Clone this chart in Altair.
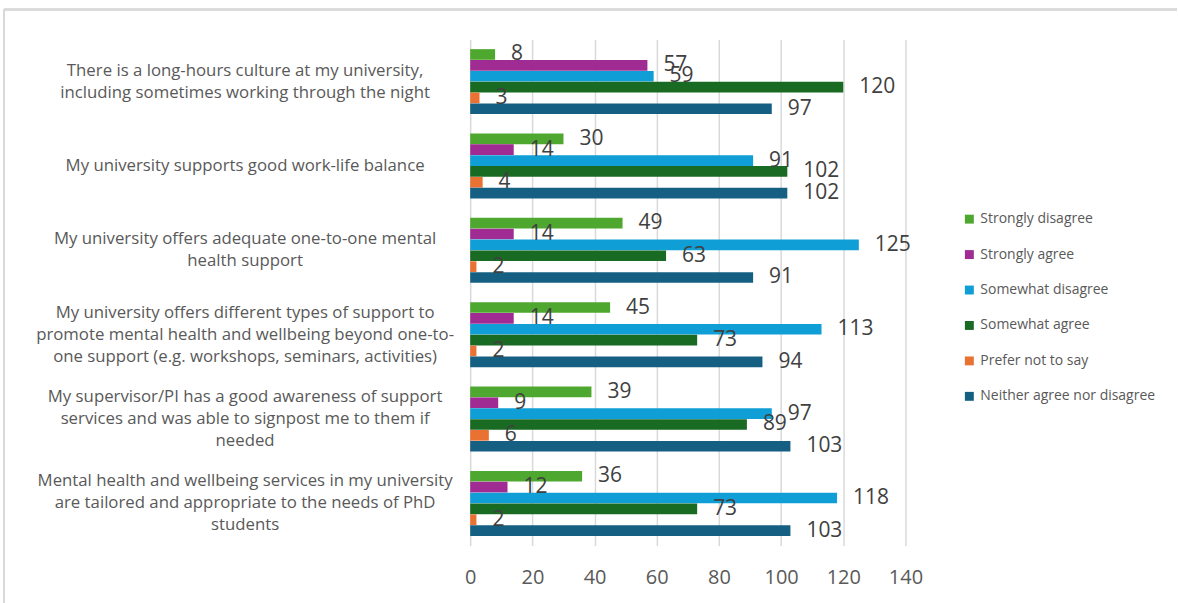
import altair as alt
import pandas as pd

categories = [
    "There is a long-hours culture at my university,|including sometimes working through the night",
    "My university supports good work-life balance",
    "My university offers adequate one-to-one mental|health support",
    "My university offers  different types of support to|promote mental health and wellbeing beyond one-to-|one support (e.g. workshops, seminars, activities)",
    "My supervisor/PI has a good awareness of support|services and was able to signpost me to them if|needed",
    "Mental health and wellbeing services in my university|are tailored and appropriate to the needs of PhD|students",
]
series = ["Strongly disagree", "Strongly agree", "Somewhat disagree",
          "Somewhat agree", "Prefer not to say", "Neither agree nor disagree"]
colors = ["#4EA72E", "#A02B93", "#0F9ED5", "#196B24", "#E97132", "#156082"]

strongly_disagree = [8, 30, 49, 45, 39, 36]
strongly_agree = [57, 14, 14, 14, 9, 12]
somewhat_disagree = [59, 91, 125, 113, 97, 118]
somewhat_agree = [120, 102, 63, 73, 89, 73]
prefer_not = [3, 4, 2, 2, 6, 2]
neither = [97, 102, 91, 94, 103, 103]

values = [strongly_disagree, strongly_agree, somewhat_disagree, somewhat_agree, prefer_not, neither]
rows = []
for s, vals in zip(series, values):
    for c, v in zip(categories, vals):
        rows.append({"category": c, "series": s, "value": v})
df = pd.DataFrame(rows)

FONT = "Open Sans"
nlines = "length(split(datum.value, '|'))"

y_enc = alt.Y("category:N", sort=categories, title=None,
              scale=alt.Scale(paddingInner=0.23, paddingOuter=0.115),
              axis=alt.Axis(labelExpr="split(datum.label, '|')", labelAlign="center",
                            labelPadding=226, labelFontSize=16.8, labelColor="#595959",
                            labelFont=FONT, labelLineHeight=22, labelLimit=600,
                            labelOffset={"condition": [
                                {"test": nlines + " == 3", "value": -22},
                                {"test": nlines + " == 2", "value": -11}], "value": 0},
                            ticks=False, domain=False, grid=False))
yoff = alt.YOffset("series:N", sort=series, scale=alt.Scale(paddingInner=0.02))

bars = alt.Chart(df).mark_bar().encode(
    x=alt.X("value:Q", scale=alt.Scale(domain=[0, 140]), title=None,
            axis=alt.Axis(values=[0, 20, 40, 60, 80, 100, 120, 140], labelFontSize=20,
                          labelColor="#595959", labelFont=FONT, labelPadding=22,
                          labelFlush=False,
                          ticks=False, domain=False, gridColor="#d9d9d9", gridWidth=1.5)),
    y=y_enc,
    yOffset=yoff,
    color=alt.Color("series:N", sort=series, scale=alt.Scale(domain=series, range=colors),
                    legend=alt.Legend(title=None, orient="none", legendX=493, legendY=173,
                                      symbolType="square", symbolSize=80, symbolStrokeWidth=0,
                                      labelFontSize=14, labelColor="#595959", labelFont=FONT,
                                      labelLimit=300, rowPadding=21.5, labelOffset=4)),
)

labels = alt.Chart(df).mark_text(align="left", baseline="middle", dx=16, fontSize=21,
                                 color="#404040", font=FONT).encode(
    x="value:Q", y=alt.Y("category:N", sort=categories), yOffset=yoff, text="value:Q")

border_top = alt.Chart(df).mark_rule(color="#d9d9d9", strokeWidth=1.5).encode(
    x=alt.value(-467), x2=alt.value(708), y=alt.value(-30))
border_left = alt.Chart(df).mark_rule(color="#d9d9d9", strokeWidth=1.5).encode(
    x=alt.value(-467), y=alt.value(-30), y2=alt.value(565))

chart = alt.layer(border_top, border_left, bars, labels).properties(
    width=436, height=507, padding={"left": 3, "top": 8, "right": 0, "bottom": 5},
    background="white"
).configure_view(stroke=None)

chart.save("out.html", embed_options={"renderer": "svg", "actions": False})
